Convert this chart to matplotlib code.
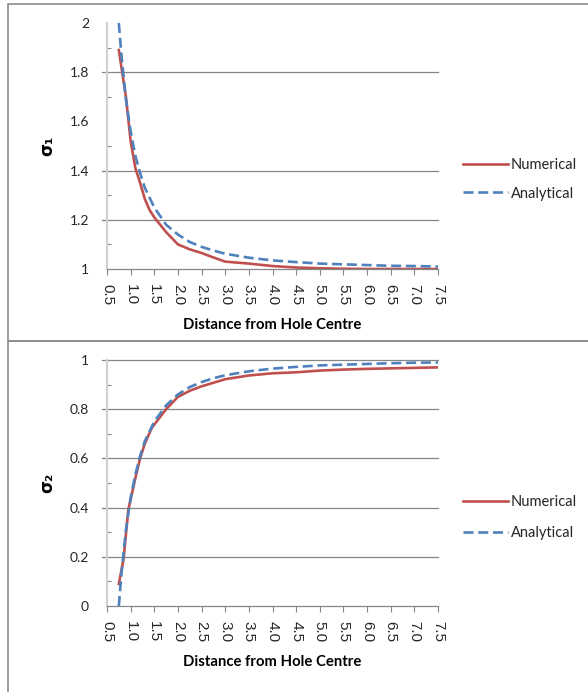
import matplotlib
matplotlib.use("Agg")
import matplotlib.pyplot as plt
from matplotlib.patches import Rectangle
from matplotlib.ticker import MultipleLocator, FixedLocator, FormatStrFormatter, FuncFormatter

plt.rcParams['font.family'] = ['Lato', 'DejaVu Sans']

# sigma 1 (top chart)
x_num_1 = [0.75, 0.9, 1.0, 1.1, 1.2, 1.3, 1.4, 1.5, 1.75, 2.0, 2.25, 2.5, 2.75, 3.0,
           3.5, 4.0, 4.5, 5.0, 5.5, 6.0, 6.5, 7.0, 7.5]
num_1 = [1.89, 1.70, 1.52, 1.41, 1.35, 1.285, 1.24, 1.21, 1.15, 1.10, 1.08, 1.065, 1.047, 1.03,
         1.022, 1.012, 1.006, 1.003, 1.001, 1.0, 1.0, 1.0, 1.0]
x_ana_1 = [0.75, 0.8, 0.9, 1.0, 1.1, 1.2, 1.3, 1.4, 1.5, 1.75, 2.0, 2.25, 2.5, 2.75, 3.0,
           3.5, 4.0, 4.5, 5.0, 5.5, 6.0, 6.5, 7.0, 7.5]
ana_1 = [2.0, 1.88, 1.69, 1.56, 1.46, 1.39, 1.33, 1.29, 1.25, 1.18, 1.14, 1.11, 1.09, 1.075, 1.062,
         1.046, 1.035, 1.028, 1.022, 1.019, 1.016, 1.013, 1.012, 1.01]

# sigma 2 (bottom chart)
x_num_2 = [0.75, 0.85, 0.95, 1.1, 1.2, 1.3, 1.45, 1.75, 2.0, 2.25, 2.5, 3.0, 3.5, 4.0,
           4.5, 5.0, 5.5, 6.0, 6.5, 7.0, 7.5]
num_2 = [0.09, 0.19, 0.39, 0.52, 0.60, 0.66, 0.725, 0.80, 0.85, 0.875, 0.893, 0.922, 0.937, 0.946,
         0.95, 0.957, 0.961, 0.964, 0.966, 0.968, 0.97]
x_ana_2 = x_ana_1
ana_2 = [0.0, 0.12, 0.31, 0.44, 0.535, 0.61, 0.67, 0.71, 0.75, 0.815, 0.86, 0.89, 0.91, 0.926, 0.938,
         0.954, 0.965, 0.972, 0.978, 0.981, 0.984, 0.987, 0.989, 0.99]

series_names = ['Numerical', 'Analytical']
x_label = 'Distance from Hole Centre'
grid_top = [1.2, 1.4, 1.8]
grid_bottom = [0.2, 0.4, 0.6, 0.8, 1.0]

RED = '#C0504D'
BLUE = '#4F81BD'
GRID = '#868686'

W, H = 588, 692
fig = plt.figure(figsize=(W / 100, H / 100), dpi=100)


def px_box(l, t, r, b):
    return [l / W, 1 - b / H, (r - l) / W, (b - t) / H]


# panel borders
for (l, t, r, b) in [(8, 4, 600, 341), (8, 341, 600, 700)]:
    fig.patches.append(Rectangle((l / W, 1 - b / H), (r - l) / W, (b - t) / H,
                                 transform=fig.transFigure, fill=False,
                                 edgecolor='#8C8C8C', lw=1.2))


def make_panel(box, x1, y1, x2, y2, ylim, grids, ylab, minor, fmt, legend_top, spacing):
    ax = fig.add_axes(box)
    ax.plot(x1, y1, color=RED, lw=1.9, label=series_names[0])
    ax.plot(x2, y2, color=BLUE, lw=1.9, ls=(0, (3.8, 1.8)), label=series_names[1])
    ax.set_xlim(0.5, 7.5)
    ax.set_ylim(*ylim)
    for g in grids:
        ax.axhline(g, xmin=-0.016, xmax=1, color=GRID, lw=0.9, clip_on=False, zorder=0)
    for s in ['top', 'right']:
        ax.spines[s].set_visible(False)
    ax.spines['left'].set_color('#D0D0D0')
    ax.spines['left'].set_linewidth(1.5)
    ax.spines['bottom'].set_color(GRID)
    ax.spines['bottom'].set_linewidth(0.9)
    ax.xaxis.set_major_locator(MultipleLocator(0.5))
    ax.xaxis.set_major_formatter(FormatStrFormatter('%.1f'))
    ax.yaxis.set_major_locator(MultipleLocator(0.2))
    ax.yaxis.set_major_formatter(FuncFormatter(fmt))
    ax.yaxis.set_minor_locator(FixedLocator(minor))
    ax.tick_params(axis='x', direction='out', length=4, color=GRID, width=0.8,
                   labelsize=11, labelrotation=-90, pad=7, labelcolor='#262626')
    ax.tick_params(axis='y', which='major', length=0, pad=13, labelsize=10,
                   labelcolor='#262626')
    ax.tick_params(axis='y', which='minor', direction='in', length=3, color=GRID, width=0.8)
    for lab in ax.get_xticklabels():
        lab.set_family('Liberation Sans')
    ax.set_xlabel(x_label, fontsize=10.7, fontweight='bold')
    ax.xaxis.label.set_va('center')
    ax.xaxis.set_label_coords(0.5, -56 / 246)
    ax.set_ylabel(ylab, fontsize=12, fontweight='bold', family=['DejaVu Sans'])
    ax.yaxis.label.set_va('center')
    ax.yaxis.set_label_coords(-60 / 331, 0.5)
    ax.legend(loc='upper left', bbox_to_anchor=(463 / W, 1 - legend_top / H),
              bbox_transform=fig.transFigure, frameon=False, borderpad=0,
              borderaxespad=0, handlelength=3.1, handletextpad=0.2,
              labelspacing=spacing, fontsize=10.5, labelcolor='#262626')
    return ax


def gen_fmt(v, pos):
    return ('%.1f' % v).rstrip('0').rstrip('.')


make_panel(px_box(107, 23, 438, 269), x_num_1, num_1, x_ana_1, ana_1, (1, 2), grid_top,
           'σ₁', [1.1, 1.3, 1.5, 1.7, 1.9], gen_fmt, 158, 1.0)
make_panel(px_box(107, 360, 438, 606), x_num_2, num_2, x_ana_2, ana_2, (0, 1), grid_bottom,
           'σ₂', [0.1, 0.3, 0.5, 0.7, 0.9], gen_fmt, 495, 1.15)

fig.savefig('out.png', dpi=100)
